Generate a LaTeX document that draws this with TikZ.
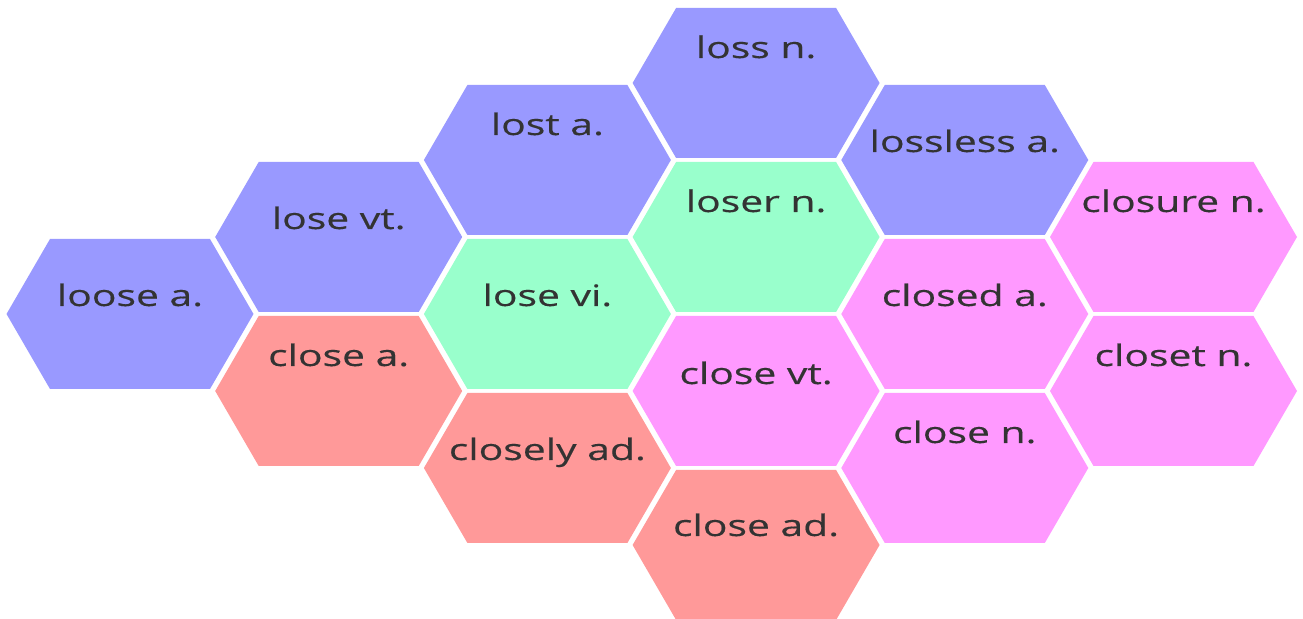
\documentclass[tikz,border=0pt]{standalone}
\usepackage{fontspec}
\setmainfont{Open Sans}[FakeStretch=1.38, FakeBold=0.4]

\definecolor{lossblue}{HTML}{9999FF}
\definecolor{losegreen}{HTML}{99FFCC}
\definecolor{closered}{HTML}{FF9999}
\definecolor{closepink}{HTML}{FF99FF}
\definecolor{inkgray}{HTML}{333333}

\tikzstyle{word}=[font=\fontsize{14.8}{17}\selectfont, text=inkgray, anchor=base, inner sep=0pt]
\newcommand{\hexhalfw}{123.5}
\newcommand{\hexedge}{80}
\newcommand{\hexhalfh}{75}

\begin{document}
\begin{tikzpicture}[x=0.5pt, y=-0.5pt]
    \useasboundingbox (0,0) rectangle (1303,619);
    % Cells: column/level/colour/raise/name/word
    \foreach \column/\level/\fillcol/\dy/\name/\word in {
        {1/3/lossblue/8/loosea/loose a.},
        {2/2/lossblue/8/losevt/lose vt.},
        {2/4/closered/25/closea/close a.},
        {3/1/lossblue/25/losta/lost a.},
        {3/3/losegreen/8/losevi/lose vi.},
        {3/5/closered/8/closelyad/closely ad.},
        {4/0/lossblue/25/lossn/loss n.},
        {4/2/losegreen/25/losern/loser n.},
        {4/4/closepink/7/closevt/close vt.},
        {4/6/closered/9/closead/close ad.},
        {5/1/lossblue/8/losslessa/lossless a.},
        {5/3/closepink/8/closeda/closed a.},
        {5/5/closepink/25/closen/close n.},
        {6/2/closepink/25/closuren/closure n.},
        {6/4/closepink/25/closetn/closet n.}}
    {
        \pgfmathsetmacro{\cx}{130+208.7*(\column-1)}
        \pgfmathsetmacro{\cy}{83+77*\level}
        \fill[\fillcol] (\cx-\hexhalfw,\cy) -- (\cx-\hexedge,\cy-\hexhalfh) -- (\cx+\hexedge,\cy-\hexhalfh)
            -- (\cx+\hexhalfw,\cy) -- (\cx+\hexedge,\cy+\hexhalfh) -- (\cx-\hexedge,\cy+\hexhalfh) -- cycle;
        \node[word] (\name) at (\cx,\cy-\dy) {\word};
    }
\end{tikzpicture}
\end{document}
